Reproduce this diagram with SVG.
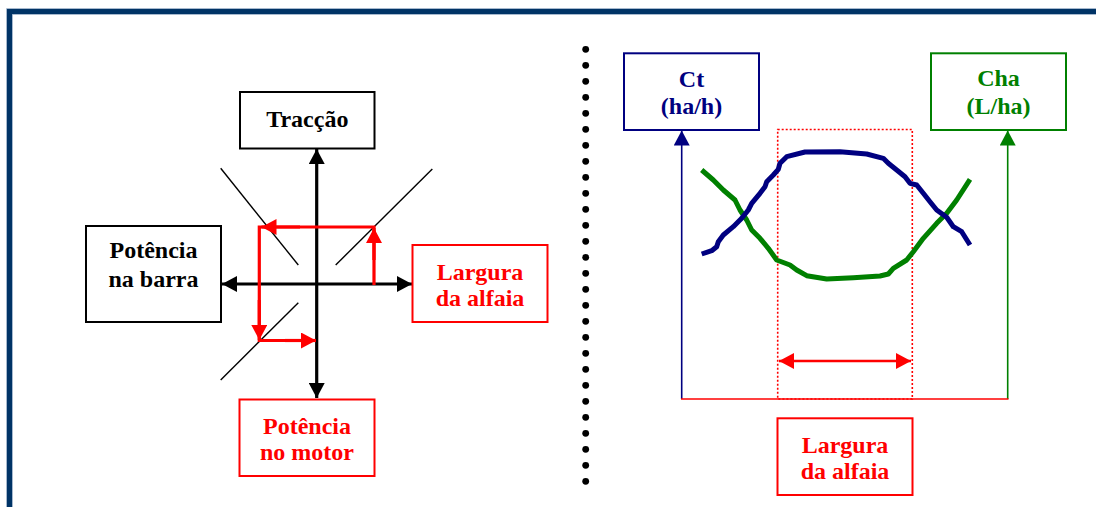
<svg xmlns="http://www.w3.org/2000/svg" width="1096" height="507" viewBox="0 0 1096 507">
  <style>
    .lbl { font-family: "Liberation Serif", "Times New Roman", serif; font-weight: bold; font-size: 24px; text-anchor: middle; }
    .blk { fill: #000000; }
    .red { fill: #ff0000; }
    .navy { fill: #000080; }
    .grn { fill: #008000; }
    .box { fill: #ffffff; stroke-width: 2; }
    .axis { stroke: #000000; stroke-width: 3.2; fill: none; }
    .diag { stroke: #000000; stroke-width: 1.4; fill: none; }
    .redpath { stroke: #ff0000; stroke-width: 3.2; fill: none; }
    .curve { fill: none; stroke-width: 5; stroke-linejoin: round; stroke-linecap: butt; }
  </style>
  <defs>
    <marker id="ahBlack" markerUnits="userSpaceOnUse" markerWidth="16" markerHeight="16" refX="15" refY="8" orient="auto-start-reverse">
      <path d="M0,0 L15,8 L0,16 Z" fill="#000000"/>
    </marker>
    <marker id="ahRed" markerUnits="userSpaceOnUse" markerWidth="16" markerHeight="16" refX="15" refY="8" orient="auto-start-reverse">
      <path d="M0,0 L15,8 L0,16 Z" fill="#ff0000"/>
    </marker>
    <marker id="ahNavy" markerUnits="userSpaceOnUse" markerWidth="16" markerHeight="16" refX="15" refY="8" orient="auto">
      <path d="M0,0 L15,8 L0,16 Z" fill="#000080"/>
    </marker>
    <marker id="ahGreen" markerUnits="userSpaceOnUse" markerWidth="16" markerHeight="16" refX="15" refY="8" orient="auto">
      <path d="M0,0 L15,8 L0,16 Z" fill="#008000"/>
    </marker>
  </defs>

  <rect width="1096" height="507" fill="#ffffff"/>

  <!-- frame -->
  <g id="frame">
    <rect x="9.5" y="11.5" width="1200" height="600" fill="none" stroke="#8aa3bf" stroke-width="6.5"/>
    <rect x="9.5" y="11.5" width="1200" height="600" fill="none" stroke="#003366" stroke-width="5"/>
  </g>

  <!-- dotted separator -->
  <g id="separator" fill="#000000">
    <circle cx="585.7" cy="49.3" r="3.4"/><circle cx="585.7" cy="65.3" r="3.4"/>
    <circle cx="585.7" cy="81.3" r="3.4"/><circle cx="585.7" cy="97.3" r="3.4"/>
    <circle cx="585.7" cy="113.3" r="3.4"/><circle cx="585.7" cy="129.3" r="3.4"/>
    <circle cx="585.7" cy="145.3" r="3.4"/><circle cx="585.7" cy="161.3" r="3.4"/>
    <circle cx="585.7" cy="177.3" r="3.4"/><circle cx="585.7" cy="193.3" r="3.4"/>
    <circle cx="585.7" cy="209.3" r="3.4"/><circle cx="585.7" cy="225.3" r="3.4"/>
    <circle cx="585.7" cy="241.3" r="3.4"/><circle cx="585.7" cy="257.3" r="3.4"/>
    <circle cx="585.7" cy="273.3" r="3.4"/><circle cx="585.7" cy="289.3" r="3.4"/>
    <circle cx="585.7" cy="305.3" r="3.4"/><circle cx="585.7" cy="321.3" r="3.4"/>
    <circle cx="585.7" cy="337.3" r="3.4"/><circle cx="585.7" cy="353.3" r="3.4"/>
    <circle cx="585.7" cy="369.3" r="3.4"/><circle cx="585.7" cy="385.3" r="3.4"/>
    <circle cx="585.7" cy="401.3" r="3.4"/><circle cx="585.7" cy="417.3" r="3.4"/>
    <circle cx="585.7" cy="433.3" r="3.4"/><circle cx="585.7" cy="449.3" r="3.4"/>
    <circle cx="585.7" cy="465.3" r="3.4"/><circle cx="585.7" cy="481.3" r="3.4"/>
  </g>

  <!-- left diagram connectors -->
  <g id="connectors-left">
    <line class="diag" x1="220.7" y1="168.3" x2="298.3" y2="265"/>
    <line class="diag" x1="432.3" y1="169" x2="335.7" y2="265"/>
    <line class="diag" x1="298.3" y1="302.7" x2="220.7" y2="380"/>
    <line class="axis" x1="316.7" y1="149" x2="316.7" y2="398" marker-start="url(#ahBlack)" marker-end="url(#ahBlack)"/>
    <line class="axis" x1="222" y1="284" x2="412" y2="284" marker-start="url(#ahBlack)" marker-end="url(#ahBlack)"/>
    <path class="redpath" d="M374,285 V227 H259.3 V340.5 H314"/>
    <line class="redpath" x1="374" y1="260" x2="374" y2="228" marker-end="url(#ahRed)"/>
    <line class="redpath" x1="300" y1="227" x2="261.5" y2="227" marker-end="url(#ahRed)"/>
    <line class="redpath" x1="259.3" y1="300" x2="259.3" y2="340" marker-end="url(#ahRed)"/>
    <line class="redpath" x1="285" y1="340.5" x2="316" y2="340.5" marker-end="url(#ahRed)"/>
  </g>

  <!-- left diagram nodes -->
  <g id="node-traccao">
    <rect class="box" x="240" y="92" width="134.5" height="56.5" stroke="#000000"/>
    <text class="lbl blk" x="307.3" y="127">Tracção</text>
  </g>
  <g id="node-potencia-barra">
    <rect class="box" x="86" y="226" width="135" height="96" stroke="#000000"/>
    <text class="lbl blk" x="153.5" y="258">Potência</text>
    <text class="lbl blk" x="153.5" y="287">na barra</text>
  </g>
  <g id="node-largura-left">
    <rect class="box" x="412.5" y="245" width="135" height="77" stroke="#ff0000"/>
    <text class="lbl red" x="480" y="280">Largura</text>
    <text class="lbl red" x="480" y="306">da alfaia</text>
  </g>
  <g id="node-potencia-motor">
    <rect class="box" x="239.5" y="399.5" width="135" height="76.5" stroke="#ff0000"/>
    <text class="lbl red" x="307" y="434">Potência</text>
    <text class="lbl red" x="307" y="460">no motor</text>
  </g>

  <!-- right diagram connectors and curves -->
  <g id="connectors-right">
    <line x1="681.7" y1="399" x2="681.7" y2="130.5" stroke="#000080" stroke-width="1.6" marker-end="url(#ahNavy)"/>
    <line x1="1007.7" y1="399" x2="1007.7" y2="130.5" stroke="#008000" stroke-width="1.6" marker-end="url(#ahGreen)"/>
    <line x1="681" y1="399" x2="1008.5" y2="399" stroke="#ff0000" stroke-width="1.6"/>
    <rect x="777.7" y="129.5" width="134.6" height="269.5" fill="none" stroke="#ff0000" stroke-width="1.6" stroke-dasharray="2 2"/>
    <line x1="779" y1="361" x2="911" y2="361" stroke="#ff0000" stroke-width="2.4" marker-start="url(#ahRed)" marker-end="url(#ahRed)"/>
    <polyline class="curve" stroke="#008000" points="701.7,170 713.3,180 723.3,190 735,200 740,210 746.7,220 751.7,230 760,238.3 768.3,248.3 776.7,260 790,265 796.7,270 806.7,275.7 826.7,279 853.3,277.7 880,276 888.3,274 893.3,268.3 906.7,260 913.3,251.7 923.3,238.3 936.7,223.3 946.7,213.3 956.7,200 970,179.3"/>
    <polyline class="curve" stroke="#000080" points="701.7,254 711.7,250.7 716.7,246.7 718.3,241.7 723.3,235 733.3,226.7 741.7,218.3 748.3,210 751.7,203.3 760,193.3 765,186.7 766.7,181.7 773.3,175 778.3,169.3 780,163.3 786.7,156.7 805,152 840,151.7 866.7,154 883.3,158.3 888.3,163.3 896.7,170 905,176.7 910,183.3 916.7,185 923.3,193.3 930,201.7 936.7,210 946.7,217.3 953.3,226.7 961.7,231.7 970,245"/>
  </g>

  <!-- right diagram nodes -->
  <g id="node-ct">
    <rect class="box" x="624" y="53.3" width="135" height="76.7" stroke="#000080"/>
    <text class="lbl navy" x="691.5" y="87.3">Ct</text>
    <text class="lbl navy" x="691.5" y="113.8">(ha/h)</text>
  </g>
  <g id="node-cha">
    <rect class="box" x="931" y="53.3" width="135" height="76.7" stroke="#008000"/>
    <text class="lbl grn" x="998.5" y="86">Cha</text>
    <text class="lbl grn" x="998.5" y="114">(L/ha)</text>
  </g>
  <g id="node-largura-right">
    <rect class="box" x="777.5" y="418.3" width="135" height="76.7" stroke="#ff0000"/>
    <text class="lbl red" x="845" y="452.5">Largura</text>
    <text class="lbl red" x="845" y="478.5">da alfaia</text>
  </g>
</svg>
